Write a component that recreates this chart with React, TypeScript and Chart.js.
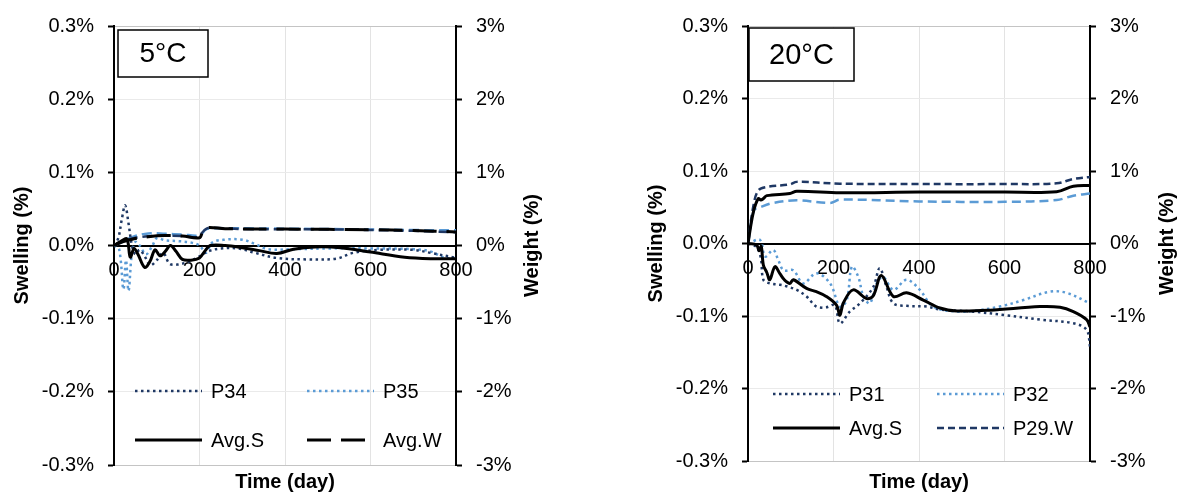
import React, { useEffect, useRef } from "react";
import { Chart, registerables } from "chart.js";

Chart.register(...registerables);

const FONT = "'Liberation Sans', Arial, sans-serif";
const DARK = "#1F3864";
const LIGHT = "#5B9BD5";
const BLACK = "#000000";

// ---------- 5°C : swelling (%) ----------
const p34Days = [0, 10, 18, 26, 34, 42, 50, 60, 72, 85, 100, 115, 130, 150, 175, 200, 220, 250, 290, 330, 380, 450, 520, 560, 620, 700, 740, 800];
const p34Swell = [0, 0.01, 0.035, 0.055, 0.03, 0.0, -0.012, -0.006, -0.015, -0.027, -0.02, -0.01, -0.025, -0.026, -0.022, -0.015, -0.008, -0.004, -0.004, -0.01, -0.017, -0.019, -0.018, -0.01, -0.006, -0.006, -0.01, -0.017];

const p35Days = [0, 12, 22, 28, 34, 42, 50, 60, 75, 90, 100, 120, 150, 180, 200, 215, 230, 260, 300, 330, 360, 420, 500, 600, 700, 740, 770, 800];
const p35Swell = [0, -0.005, -0.06, -0.02, -0.062, -0.01, 0.005, 0.0, -0.012, 0.0, 0.01, 0.007, 0.006, 0.004, 0.0, -0.01, 0.004, 0.008, 0.008, 0.002, -0.005, -0.005, -0.004, -0.004, -0.005, -0.008, -0.016, -0.018];

const avgS5Days = [0, 14, 30, 38, 47, 56, 72, 84, 96, 108, 120, 132, 145, 160, 180, 200, 212, 225, 260, 300, 340, 381, 420, 470, 530, 600, 680, 740, 800];
const avgS5 = [0, 0.005, 0.009, -0.016, -0.004, -0.012, -0.03, -0.022, -0.006, -0.014, -0.008, 0.0, -0.008, -0.019, -0.02, -0.017, -0.008, 0.0, 0.0, -0.003, -0.007, -0.011, -0.005, -0.002, -0.003, -0.009, -0.016, -0.018, -0.018];

// ---------- 5°C : weight (%) ----------
const p34WDays = [0, 20, 45, 80, 120, 160, 195, 210, 220, 300, 500, 700, 800];
const p34Weight = [0, 0.06, 0.1, 0.125, 0.135, 0.13, 0.115, 0.2, 0.24, 0.225, 0.22, 0.2, 0.18];

const p35WDays = [0, 20, 45, 80, 120, 160, 200, 215, 230, 400, 600, 720, 800];
const p35Weight = [0, 0.05, 0.12, 0.165, 0.16, 0.15, 0.14, 0.22, 0.235, 0.23, 0.22, 0.21, 0.21];

const avgW5Days = [0, 20, 45, 80, 120, 160, 200, 208, 218, 260, 400, 600, 700, 800];
const avgW5 = [0, 0.05, 0.09, 0.12, 0.135, 0.13, 0.105, 0.2, 0.245, 0.23, 0.225, 0.215, 0.205, 0.185];

// ---------- 20°C : swelling (%) ----------
const avgS20Days = [0, 20, 26, 31, 36, 44, 51, 63, 75, 85, 98, 106, 137, 160, 183, 207, 215, 223, 246, 278, 293, 312, 340, 371, 410, 449, 488, 566, 683, 730, 761, 792, 800];
const avgS20 = [0, -0.002, -0.01, -0.004, -0.03, -0.04, -0.05, -0.032, -0.042, -0.05, -0.055, -0.05, -0.062, -0.0665, -0.073, -0.085, -0.099, -0.082, -0.064, -0.076, -0.072, -0.044, -0.073, -0.068, -0.078, -0.089, -0.093, -0.092, -0.087, -0.088, -0.094, -0.105, -0.115];

const p31Days = [0, 20, 30, 36, 51, 75, 90, 114, 137, 160, 183, 203, 215, 238, 262, 293, 308, 324, 340, 371, 418, 449, 527, 605, 683, 761, 792, 800];
const p31Swell = [0, -0.005, -0.02, -0.05, -0.055, -0.057, -0.059, -0.064, -0.073, -0.087, -0.088, -0.085, -0.11, -0.094, -0.0825, -0.06, -0.034, -0.06, -0.0825, -0.086, -0.087, -0.091, -0.094, -0.099, -0.105, -0.11, -0.119, -0.142];

const p32Days = [0, 28, 40, 59, 71, 83, 106, 129, 160, 192, 215, 231, 243, 258, 270, 285, 301, 316, 340, 371, 402, 433, 488, 527, 589, 644, 706, 745, 800];
const p32Swell = [0, 0.005, -0.018, -0.009, -0.023, -0.037, -0.037, -0.055, -0.041, -0.055, -0.087, -0.078, -0.032, -0.046, -0.073, -0.0825, -0.055, -0.046, -0.064, -0.05, -0.064, -0.087, -0.094, -0.093, -0.087, -0.078, -0.0665, -0.068, -0.0825];

// ---------- 20°C : weight (%) ----------
const p29WDays = [0, 12, 24, 45, 98, 114, 215, 400, 600, 722, 761, 800];
const p29Weight = [0, 0.5, 0.73, 0.78, 0.815, 0.85, 0.825, 0.82, 0.82, 0.83, 0.89, 0.917];

const avgW20Days = [0, 12, 24, 30, 36, 44, 98, 114, 215, 400, 600, 722, 761, 800];
const avgW20 = [0, 0.42, 0.62, 0.6, 0.62, 0.66, 0.69, 0.72, 0.7, 0.71, 0.71, 0.715, 0.79, 0.8];

const w20bDays = [0, 14, 28, 59, 114, 192, 215, 400, 600, 722, 761, 800];
const w20b = [0, 0.46, 0.5, 0.56, 0.596, 0.56, 0.605, 0.58, 0.575, 0.6, 0.66, 0.69];

// axis ticks
const swellTicks = { min: -0.3, max: 0.3, step: 0.1 };
const weightTicks = { min: -3, max: 3, step: 1 };
const dayTicks = { min: 0, max: 800, step: 200 };

const pts = (xs: number[], ys: number[]) => xs.map((x, i) => ({ x, y: ys[i] }));

type Style = { color: string; width: number; dash: number[] };
const dotted = (c: string): Style => ({ color: c, width: 2.5, dash: [2.5, 3.5] });
const solid: Style = { color: BLACK, width: 3, dash: [] };

function series(label: string, xs: number[], ys: number[], axis: string, s: Style) {
  return {
    label,
    data: pts(xs, ys),
    yAxisID: axis,
    borderColor: s.color,
    backgroundColor: s.color,
    borderWidth: s.width,
    borderDash: s.dash,
    pointRadius: 0,
    tension: 0.35,
    fill: false,
  };
}

type Decor = {
  tag: string;
  tagBox: { dx: number; dy: number; w: number; h: number; size: number };
  legendRows: number[];
  legendCols: number[];
  legendItems: { ds: number; row: number; col: number }[];
  swellTitleDx: number;
  weightTitleDx: number;
};

function decorPlugin(d: Decor) {
  return {
    id: "decor",
    afterDatasetsDraw(chart: any) {
      const { ctx, chartArea } = chart;
      const { left, right, top, bottom } = chartArea;
      ctx.save();

      // temperature tag
      const b = d.tagBox;
      ctx.fillStyle = "#ffffff";
      ctx.fillRect(left + b.dx, top + b.dy, b.w, b.h);
      ctx.strokeStyle = BLACK;
      ctx.lineWidth = 1.5;
      ctx.strokeRect(left + b.dx, top + b.dy, b.w, b.h);
      ctx.fillStyle = BLACK;
      ctx.font = `${b.size}px ${FONT}`;
      ctx.textAlign = "center";
      ctx.textBaseline = "middle";
      ctx.fillText(d.tag, left + b.dx + b.w / 2, top + b.dy + b.h / 2 + 1);

      // legend
      ctx.font = `20px ${FONT}`;
      ctx.textAlign = "left";
      const lineLen = 67;
      d.legendItems.forEach((it) => {
        const ds = chart.data.datasets[it.ds];
        const y = top + d.legendRows[it.row];
        const x0 = left + d.legendCols[it.col];
        ctx.beginPath();
        ctx.setLineDash(ds.borderDash || []);
        ctx.strokeStyle = ds.borderColor;
        ctx.lineWidth = ds.borderWidth;
        ctx.moveTo(x0, y);
        ctx.lineTo(x0 + lineLen, y);
        ctx.stroke();
        ctx.setLineDash([]);
        ctx.fillStyle = BLACK;
        ctx.fillText(ds.label, x0 + lineLen + 9, y + 1);
      });

      // axis titles
      ctx.font = `bold 20px ${FONT}`;
      ctx.fillStyle = BLACK;
      ctx.textAlign = "center";
      ctx.fillText("Time (day)", (left + right) / 2, 482);
      const midY = (top + bottom) / 2;
      [
        ["Swelling (%)", left - d.swellTitleDx],
        ["Weight (%)", right + d.weightTitleDx],
      ].forEach(([t, x]) => {
        ctx.save();
        ctx.translate(x as number, midY);
        ctx.rotate(-Math.PI / 2);
        ctx.fillText(t as string, 0, 0);
        ctx.restore();
      });
      ctx.restore();
    },
  };
}

function makeConfig(datasets: any[], yW: number, y1W: number, padBottom: number, decor: Decor) {
  const tickFont = { family: FONT, size: 20 };
  return {
    type: "line",
    data: { datasets },
    options: {
      responsive: false,
      animation: false,
      events: [],
      layout: { padding: { top: 25, bottom: padBottom, left: 0, right: 0 } },
      plugins: { legend: { display: false }, tooltip: { enabled: false }, title: { display: false } },
      scales: {
        x: {
          type: "linear",
          min: dayTicks.min,
          max: dayTicks.max,
          position: { y: 0 },
          ticks: { stepSize: dayTicks.step, font: tickFont, color: BLACK, padding: 13, maxRotation: 0, autoSkip: false },
          grid: {
            drawTicks: false,
            lineWidth: 1,
            color: (c: any) =>
              c.tick && (c.tick.value === dayTicks.min || c.tick.value === dayTicks.max) ? "rgba(0,0,0,0)" : "#e3e3e3",
          },
          border: { color: BLACK, width: 2 },
        },
        y: {
          type: "linear",
          position: "left",
          min: swellTicks.min,
          max: swellTicks.max,
          afterFit: (s: any) => {
            s.width = yW;
          },
          ticks: {
            stepSize: swellTicks.step,
            font: tickFont,
            color: BLACK,
            padding: 14,
            callback: (v: number) => {
              const r = Math.round(v * 10) / 10;
              return (Math.abs(r) < 1e-9 ? "0.0" : r.toFixed(1)) + "%";
            },
          },
          grid: {
            drawTicks: true,
            tickLength: 6,
            tickWidth: 2,
            tickColor: BLACK,
            lineWidth: 1,
            color: (c: any) => {
              const v = c.tick ? c.tick.value : 1;
              if (Math.abs(v) < 1e-9) return "rgba(0,0,0,0)";
              if (Math.abs(Math.abs(v) - 0.3) < 1e-6) return "#c4c4c4";
              return "#eaeaea";
            },
          },
          border: { color: BLACK, width: 2 },
        },
        y1: {
          type: "linear",
          position: "right",
          min: weightTicks.min,
          max: weightTicks.max,
          afterFit: (s: any) => {
            s.width = y1W;
          },
          ticks: {
            stepSize: weightTicks.step,
            font: tickFont,
            color: BLACK,
            padding: 14,
            callback: (v: number) => Math.round(v) + "%",
          },
          grid: { drawOnChartArea: false, drawTicks: true, tickLength: 6, tickWidth: 2, tickColor: BLACK },
          border: { color: BLACK, width: 2 },
        },
      },
    },
    plugins: [decorPlugin(decor)],
  };
}

function useChart(ref: React.RefObject<HTMLCanvasElement>, build: () => any) {
  useEffect(() => {
    if (!ref.current) return;
    const chart = new Chart(ref.current, build());
    return () => chart.destroy();
  }, []);
}

export default function App() {
  const leftRef = useRef<HTMLCanvasElement>(null);
  const rightRef = useRef<HTMLCanvasElement>(null);

  useChart(leftRef, () =>
    makeConfig(
      [
        series("Avg.S", avgS5Days, avgS5, "y", solid),
        series("Avg.W", avgW5Days, avgW5, "y1", { color: BLACK, width: 3, dash: [24, 10] }),
        series("P34", p34Days, p34Swell, "y", dotted(DARK)),
        series("P35", p35Days, p35Swell, "y", dotted(LIGHT)),
        series("P34.W", p34WDays, p34Weight, "y1", { color: DARK, width: 2.5, dash: [10, 5] }),
        series("P35.W", p35WDays, p35Weight, "y1", { color: LIGHT, width: 2.5, dash: [10, 5] }),
      ],
      114,
      135,
      27,
      {
        tag: "5°C",
        tagBox: { dx: 4, dy: 4, w: 90, h: 47, size: 28 },
        legendRows: [365, 414],
        legendCols: [21, 193],
        legendItems: [
          { ds: 2, row: 0, col: 0 },
          { ds: 3, row: 0, col: 1 },
          { ds: 0, row: 1, col: 0 },
          { ds: 1, row: 1, col: 1 },
        ],
        swellTitleDx: 92,
        weightTitleDx: 76,
      }
    )
  );

  useChart(rightRef, () =>
    makeConfig(
      [
        series("Avg.S", avgS20Days, avgS20, "y", solid),
        series("Avg.W", avgW20Days, avgW20, "y1", solid),
        series("P31", p31Days, p31Swell, "y", dotted(DARK)),
        series("P32", p32Days, p32Swell, "y", dotted(LIGHT)),
        series("P29.W", p29WDays, p29Weight, "y1", { color: DARK, width: 2.5, dash: [7, 4] }),
        series("W", w20bDays, w20b, "y1", { color: LIGHT, width: 2.5, dash: [9, 5] }),
      ],
      157,
      92,
      31,
      {
        tag: "20°C",
        tagBox: { dx: 1, dy: 2, w: 105, h: 53, size: 29 },
        legendRows: [368, 402],
        legendCols: [25, 189],
        legendItems: [
          { ds: 2, row: 0, col: 0 },
          { ds: 3, row: 0, col: 1 },
          { ds: 0, row: 1, col: 0 },
          { ds: 4, row: 1, col: 1 },
        ],
        swellTitleDx: 92,
        weightTitleDx: 77,
      }
    )
  );

  return (
    <div
      style={{
        position: "absolute",
        left: 0,
        top: 0,
        width: 1182,
        height: 492,
        background: "#ffffff",
        display: "flex",
      }}
    >
      <canvas ref={leftRef} width={591} height={492} style={{ display: "block" }} />
      <canvas ref={rightRef} width={591} height={492} style={{ display: "block" }} />
    </div>
  );
}
